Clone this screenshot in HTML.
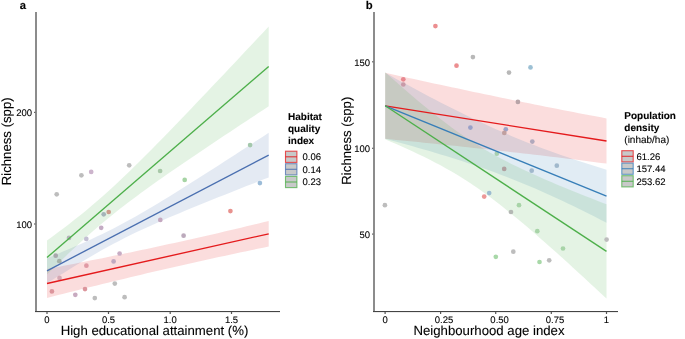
<!DOCTYPE html>
<html><head><meta charset="utf-8"><style>
html,body{margin:0;padding:0;background:#fff;}
svg{display:block;font-family:"Liberation Sans", sans-serif;will-change:transform;}
text{text-rendering:geometricPrecision;stroke:currentColor;stroke-width:0.1px;}
</style></head><body>
<svg width="685" height="339" viewBox="0 0 685 339">
<rect width="685" height="339" fill="#fff"/>
<polygon points="47.00,269.11 52.54,268.04 58.09,266.96 63.63,265.87 69.17,264.78 74.71,263.69 80.25,262.59 85.80,261.48 91.34,260.37 96.88,259.25 102.42,258.13 107.97,257.00 113.51,255.86 119.05,254.72 124.59,253.57 130.14,252.41 135.68,251.25 141.22,250.08 146.76,248.90 152.31,247.71 157.85,246.52 163.39,245.32 168.94,244.11 174.48,242.89 180.02,241.67 185.56,240.43 191.10,239.19 196.65,237.95 202.19,236.69 207.73,235.43 213.28,234.16 218.82,232.88 224.36,231.59 229.90,230.29 235.44,228.99 240.99,227.68 246.53,226.37 252.07,225.04 257.62,223.71 263.16,222.37 268.70,221.03 268.70,246.57 263.16,247.71 257.62,248.86 252.07,250.01 246.53,251.17 240.99,252.34 235.44,253.52 229.90,254.70 224.36,255.89 218.82,257.09 213.28,258.29 207.73,259.51 202.19,260.73 196.65,261.96 191.10,263.20 185.56,264.44 180.02,265.69 174.48,266.95 168.94,268.22 163.39,269.50 157.85,270.78 152.31,272.07 146.76,273.37 141.22,274.68 135.68,275.99 130.14,277.31 124.59,278.64 119.05,279.98 113.51,281.32 107.97,282.67 102.42,284.02 96.88,285.38 91.34,286.75 85.80,288.12 80.25,289.50 74.71,290.89 69.17,292.28 63.63,293.67 58.09,295.07 52.54,296.48 47.00,297.89" fill="#e41a1c" fill-opacity="0.15"/>
<polygon points="47.00,258.30 52.54,256.00 58.09,253.69 63.63,251.35 69.17,248.98 74.71,246.58 80.25,244.14 85.80,241.66 91.34,239.13 96.88,236.55 102.42,233.89 107.97,231.18 113.51,228.38 119.05,225.51 124.59,222.57 130.14,219.55 135.68,216.46 141.22,213.30 146.76,210.08 152.31,206.80 157.85,203.48 163.39,200.12 168.94,196.72 174.48,193.29 180.02,189.84 185.56,186.36 191.10,182.86 196.65,179.35 202.19,175.82 207.73,172.28 213.28,168.72 218.82,165.16 224.36,161.59 229.90,158.01 235.44,154.42 240.99,150.83 246.53,147.23 252.07,143.63 257.62,140.02 263.16,136.41 268.70,132.80 268.70,177.40 263.16,179.57 257.62,181.75 252.07,183.93 246.53,186.11 240.99,188.30 235.44,190.49 229.90,192.69 224.36,194.89 218.82,197.11 213.28,199.33 207.73,201.56 202.19,203.80 196.65,206.06 191.10,208.33 185.56,210.62 180.02,212.92 174.48,215.25 168.94,217.61 163.39,220.00 157.85,222.42 152.31,224.88 146.76,227.39 141.22,229.96 135.68,232.58 130.14,235.28 124.59,238.04 119.05,240.88 113.51,243.80 107.97,246.79 102.42,249.86 96.88,252.99 91.34,256.19 85.80,259.44 80.25,262.75 74.71,266.09 69.17,269.48 63.63,272.90 58.09,276.34 52.54,279.81 47.00,283.30" fill="#4a6fb0" fill-opacity="0.15"/>
<polygon points="47.00,240.50 52.54,236.45 58.09,232.35 63.63,228.17 69.17,223.92 74.71,219.59 80.25,215.16 85.80,210.64 91.34,206.00 96.88,201.26 102.42,196.41 107.97,191.45 113.51,186.38 119.05,181.22 124.59,175.97 130.14,170.64 135.68,165.23 141.22,159.76 146.76,154.23 152.31,148.66 157.85,143.04 163.39,137.38 168.94,131.69 174.48,125.96 180.02,120.22 185.56,114.45 191.10,108.66 196.65,102.86 202.19,97.04 207.73,91.21 213.28,85.36 218.82,79.50 224.36,73.64 229.90,67.77 235.44,61.88 240.99,55.99 246.53,50.10 252.07,44.20 257.62,38.29 263.16,32.38 268.70,26.46 268.70,106.34 263.16,109.97 257.62,113.62 252.07,117.27 246.53,120.92 240.99,124.58 235.44,128.25 229.90,131.92 224.36,135.60 218.82,139.29 213.28,142.99 207.73,146.70 202.19,150.42 196.65,154.16 191.10,157.91 185.56,161.67 180.02,165.46 174.48,169.27 168.94,173.10 163.39,176.97 157.85,180.86 152.31,184.80 146.76,188.78 141.22,192.80 135.68,196.89 130.14,201.04 124.59,205.26 119.05,209.56 113.51,213.96 107.97,218.45 102.42,223.04 96.88,227.74 91.34,232.56 85.80,237.48 80.25,242.51 74.71,247.64 69.17,252.86 63.63,258.16 58.09,263.54 52.54,268.99 47.00,274.50" fill="#4daf4a" fill-opacity="0.15"/>
<circle cx="56.7" cy="194.3" r="2.35" fill="#bdbdbd"/>
<circle cx="81.4" cy="175.3" r="2.35" fill="#bdbdbd"/>
<circle cx="91.2" cy="171.9" r="2.35" fill="#ccb4cc"/>
<circle cx="129.2" cy="165.3" r="2.35" fill="#bdbdbd"/>
<circle cx="160.1" cy="171.0" r="2.35" fill="#a8c8a8"/>
<circle cx="184.7" cy="179.9" r="2.35" fill="#a6d4a4"/>
<circle cx="250.1" cy="145.1" r="2.35" fill="#a4c8ac"/>
<circle cx="259.9" cy="183.1" r="2.35" fill="#9cbcd8"/>
<circle cx="230.4" cy="211.1" r="2.35" fill="#e8928e"/>
<circle cx="183.6" cy="235.7" r="2.35" fill="#bcaabc"/>
<circle cx="160.3" cy="219.9" r="2.35" fill="#c4a8c0"/>
<circle cx="103.7" cy="214.3" r="2.35" fill="#a4b4b8"/>
<circle cx="108.7" cy="212.0" r="2.35" fill="#cc9c8c"/>
<circle cx="101.2" cy="227.8" r="2.35" fill="#c4acc4"/>
<circle cx="69" cy="237.9" r="2.35" fill="#b4b4b8"/>
<circle cx="86.3" cy="238.9" r="2.35" fill="#c4c0d4"/>
<circle cx="55.7" cy="255.7" r="2.35" fill="#a8a8ac"/>
<circle cx="59.3" cy="261.2" r="2.35" fill="#a4b0a8"/>
<circle cx="86.4" cy="265.7" r="2.35" fill="#e09aa4"/>
<circle cx="59.5" cy="277.9" r="2.35" fill="#d4a8b4"/>
<circle cx="51.9" cy="291.4" r="2.35" fill="#dc959c"/>
<circle cx="75.3" cy="294.8" r="2.35" fill="#c8aac0"/>
<circle cx="85" cy="289.1" r="2.35" fill="#dc959c"/>
<circle cx="94.8" cy="298.1" r="2.35" fill="#bdbdbd"/>
<circle cx="119.6" cy="253.5" r="2.35" fill="#c8acc4"/>
<circle cx="113.6" cy="261.4" r="2.35" fill="#c0a8c0"/>
<circle cx="114.8" cy="283.6" r="2.35" fill="#bdbdbd"/>
<circle cx="124.6" cy="297.2" r="2.35" fill="#bdbdbd"/>
<line x1="47.0" y1="283.5" x2="268.7" y2="233.8" stroke="#e41a1c" stroke-width="1.35"/>
<line x1="47.0" y1="270.8" x2="268.7" y2="155.1" stroke="#4a6fb0" stroke-width="1.35"/>
<line x1="47.0" y1="257.5" x2="268.7" y2="66.4" stroke="#4daf4a" stroke-width="1.35"/>
<polygon points="385.20,72.81 390.73,74.03 396.26,75.24 401.80,76.44 407.33,77.65 412.86,78.85 418.39,80.05 423.93,81.25 429.46,82.44 434.99,83.63 440.52,84.82 446.06,86.01 451.59,87.19 457.12,88.37 462.65,89.54 468.19,90.71 473.72,91.88 479.25,93.04 484.78,94.20 490.32,95.35 495.85,96.50 501.38,97.65 506.91,98.79 512.45,99.93 517.98,101.06 523.51,102.19 529.04,103.31 534.58,104.43 540.11,105.54 545.64,106.64 551.17,107.74 556.71,108.84 562.24,109.93 567.77,111.01 573.31,112.08 578.84,113.15 584.37,114.21 589.90,115.27 595.43,116.32 600.97,117.36 606.50,118.40 606.50,163.60 600.97,162.88 595.43,162.16 589.90,161.45 584.37,160.75 578.84,160.05 573.31,159.36 567.77,158.67 562.24,157.99 556.71,157.32 551.17,156.66 545.64,156.00 540.11,155.34 534.58,154.69 529.04,154.05 523.51,153.41 517.98,152.78 512.45,152.15 506.91,151.53 501.38,150.91 495.85,150.30 490.32,149.69 484.78,149.08 479.25,148.48 473.72,147.88 468.19,147.29 462.65,146.70 457.12,146.11 451.59,145.53 446.06,144.95 440.52,144.38 434.99,143.81 429.46,143.24 423.93,142.67 418.39,142.11 412.86,141.55 407.33,140.99 401.80,140.44 396.26,139.88 390.73,139.33 385.20,138.79" fill="#e41a1c" fill-opacity="0.15"/>
<polygon points="385.20,72.83 390.73,75.86 396.26,78.88 401.80,81.89 407.33,84.87 412.86,87.84 418.39,90.80 423.93,93.73 429.46,96.64 434.99,99.52 440.52,102.38 446.06,105.21 451.59,108.02 457.12,110.79 462.65,113.53 468.19,116.23 473.72,118.90 479.25,121.53 484.78,124.12 490.32,126.67 495.85,129.17 501.38,131.62 506.91,134.03 512.45,136.39 517.98,138.70 523.51,140.96 529.04,143.18 534.58,145.34 540.11,147.46 545.64,149.53 551.17,151.55 556.71,153.53 562.24,155.46 567.77,157.36 573.31,159.21 578.84,161.03 584.37,162.82 589.90,164.57 595.43,166.28 600.97,167.97 606.50,169.64 606.50,222.76 600.97,219.91 595.43,217.08 589.90,214.27 584.37,211.50 578.84,208.77 573.31,206.07 567.77,203.40 562.24,200.78 556.71,198.19 551.17,195.65 545.64,193.15 540.11,190.70 534.58,188.30 529.04,185.94 523.51,183.64 517.98,181.38 512.45,179.17 506.91,177.01 501.38,174.90 495.85,172.83 490.32,170.81 484.78,168.84 479.25,166.91 473.72,165.02 468.19,163.17 462.65,161.35 457.12,159.57 451.59,157.82 446.06,156.11 440.52,154.42 434.99,152.76 429.46,151.12 423.93,149.51 418.39,147.92 412.86,146.36 407.33,144.81 401.80,143.27 396.26,141.76 390.73,140.26 385.20,138.77" fill="#377eb8" fill-opacity="0.15"/>
<polygon points="385.20,72.26 390.73,77.19 396.26,82.08 401.80,86.92 407.33,91.72 412.86,96.46 418.39,101.14 423.93,105.74 429.46,110.27 434.99,114.71 440.52,119.05 446.06,123.29 451.59,127.41 457.12,131.41 462.65,135.28 468.19,139.02 473.72,142.62 479.25,146.09 484.78,149.43 490.32,152.65 495.85,155.75 501.38,158.73 506.91,161.62 512.45,164.41 517.98,167.12 523.51,169.76 529.04,172.33 534.58,174.84 540.11,177.30 545.64,179.71 551.17,182.07 556.71,184.41 562.24,186.71 567.77,188.98 573.31,191.22 578.84,193.44 584.37,195.64 589.90,197.82 595.43,199.99 600.97,202.13 606.50,204.27 606.50,298.53 600.97,293.39 595.43,288.25 589.90,283.14 584.37,278.04 578.84,272.96 573.31,267.90 567.77,262.86 562.24,257.85 556.71,252.87 551.17,247.93 545.64,243.01 540.11,238.14 534.58,233.32 529.04,228.55 523.51,223.84 517.98,219.20 512.45,214.63 506.91,210.14 501.38,205.75 495.85,201.45 490.32,197.27 484.78,193.21 479.25,189.27 473.72,185.46 468.19,181.78 462.65,178.24 457.12,174.83 451.59,171.55 446.06,168.39 440.52,165.35 434.99,162.41 429.46,159.57 423.93,156.82 418.39,154.14 412.86,151.54 407.33,149.00 401.80,146.52 396.26,144.08 390.73,141.69 385.20,139.34" fill="#4daf4a" fill-opacity="0.15"/>
<circle cx="435.4" cy="26.1" r="2.35" fill="#ec8e90"/>
<circle cx="472.9" cy="57.1" r="2.35" fill="#b8b8b8"/>
<circle cx="456.5" cy="65.7" r="2.35" fill="#ec8e90"/>
<circle cx="509" cy="72.6" r="2.35" fill="#b8b8b8"/>
<circle cx="530.5" cy="67.4" r="2.35" fill="#9cc0d4"/>
<circle cx="403.3" cy="79.3" r="2.35" fill="#e88890"/>
<circle cx="403.3" cy="84.5" r="2.35" fill="#c89aa8"/>
<circle cx="517.9" cy="101.9" r="2.35" fill="#b8a4a8"/>
<circle cx="470.4" cy="127.6" r="2.35" fill="#98a0c8"/>
<circle cx="505.8" cy="129.3" r="2.35" fill="#9ca4c8"/>
<circle cx="504.3" cy="132.9" r="2.35" fill="#c0a0a0"/>
<circle cx="532.3" cy="141.6" r="2.35" fill="#b0a8bc"/>
<circle cx="496.8" cy="153.7" r="2.35" fill="#a8d0b0"/>
<circle cx="556.8" cy="165.7" r="2.35" fill="#a0b8cc"/>
<circle cx="504.2" cy="168.9" r="2.35" fill="#b0a0a0"/>
<circle cx="531.7" cy="170.7" r="2.35" fill="#a0b8cc"/>
<circle cx="489.2" cy="193.1" r="2.35" fill="#9cbcd0"/>
<circle cx="484.2" cy="196.6" r="2.35" fill="#ec9898"/>
<circle cx="519" cy="205.2" r="2.35" fill="#a8d4a8"/>
<circle cx="511" cy="212.0" r="2.35" fill="#b4b8b4"/>
<circle cx="537.3" cy="231.2" r="2.35" fill="#a8d4a8"/>
<circle cx="563" cy="248.5" r="2.35" fill="#a8d4a8"/>
<circle cx="549.2" cy="260.3" r="2.35" fill="#bdbdbd"/>
<circle cx="539.5" cy="262.0" r="2.35" fill="#a8d8a8"/>
<circle cx="606.6" cy="239.6" r="2.35" fill="#bdbdbd"/>
<circle cx="384.9" cy="205.2" r="2.35" fill="#bdbdbd"/>
<circle cx="495.8" cy="256.8" r="2.35" fill="#a8d8a8"/>
<circle cx="513.3" cy="251.7" r="2.35" fill="#bdbdbd"/>
<line x1="385.2" y1="105.8" x2="606.5" y2="141.0" stroke="#e41a1c" stroke-width="1.35"/>
<line x1="385.2" y1="105.8" x2="606.5" y2="196.2" stroke="#377eb8" stroke-width="1.35"/>
<line x1="385.2" y1="105.8" x2="606.5" y2="251.4" stroke="#4daf4a" stroke-width="1.35"/>
<rect x="35" y="12" width="2" height="299" fill="#8c8c8c"/><rect x="35" y="311" width="245" height="1.1" fill="#444"/>
<rect x="373" y="12" width="2" height="299" fill="#8c8c8c"/><rect x="373" y="311" width="245" height="1.1" fill="#444"/>
<rect x="46.4" y="312" width="1.2" height="2" fill="#555"/>
<text x="47" y="322.6" font-size="9.5" text-anchor="middle" font-weight="normal" fill="#000">0</text>
<rect x="107.9" y="312" width="1.2" height="2" fill="#555"/>
<text x="108.5" y="322.6" font-size="9.5" text-anchor="middle" font-weight="normal" fill="#000">0.5</text>
<rect x="169.6" y="312" width="1.2" height="2" fill="#555"/>
<text x="170.2" y="322.6" font-size="9.5" text-anchor="middle" font-weight="normal" fill="#000">1.0</text>
<rect x="230.9" y="312" width="1.2" height="2" fill="#555"/>
<text x="231.5" y="322.6" font-size="9.5" text-anchor="middle" font-weight="normal" fill="#000">1.5</text>
<rect x="34.1" y="111.80000000000001" width="1.2" height="1.2" fill="#555"/>
<text x="32" y="116.2" font-size="9.5" text-anchor="end" font-weight="normal" fill="#000">200</text>
<rect x="34.1" y="223.4" width="1.2" height="1.2" fill="#555"/>
<text x="32" y="227.8" font-size="9.5" text-anchor="end" font-weight="normal" fill="#000">100</text>
<rect x="384.5" y="312" width="1.2" height="2" fill="#555"/>
<text x="385.1" y="322.6" font-size="9.5" text-anchor="middle" font-weight="normal" fill="#000">0</text>
<rect x="440.0" y="312" width="1.2" height="2" fill="#555"/>
<text x="444" y="322.6" font-size="9.5" text-anchor="middle" font-weight="normal" fill="#000">0.25</text>
<rect x="495.09999999999997" y="312" width="1.2" height="2" fill="#555"/>
<text x="499.6" y="322.6" font-size="9.5" text-anchor="middle" font-weight="normal" fill="#000">0.50</text>
<rect x="550.6999999999999" y="312" width="1.2" height="2" fill="#555"/>
<text x="555" y="322.6" font-size="9.5" text-anchor="middle" font-weight="normal" fill="#000">0.75</text>
<rect x="605.9" y="312" width="1.2" height="2" fill="#555"/>
<text x="606.4" y="322.6" font-size="9.5" text-anchor="middle" font-weight="normal" fill="#000">1</text>
<rect x="372.09999999999997" y="61.199999999999996" width="1.2" height="1.2" fill="#555"/>
<text x="370" y="65.6" font-size="9.5" text-anchor="end" font-weight="normal" fill="#000">150</text>
<rect x="372.09999999999997" y="147.70000000000002" width="1.2" height="1.2" fill="#555"/>
<text x="370" y="152.10000000000002" font-size="9.5" text-anchor="end" font-weight="normal" fill="#000">100</text>
<rect x="372.09999999999997" y="233.5" width="1.2" height="1.2" fill="#555"/>
<text x="370" y="237.9" font-size="9.5" text-anchor="end" font-weight="normal" fill="#000">50</text>
<text x="154.5" y="334.7" font-size="13.2" text-anchor="middle" font-weight="normal" fill="#000">High educational attainment (%)</text>
<text x="489" y="334.7" font-size="13.2" text-anchor="middle" font-weight="normal" fill="#000">Neighbourhood age index</text>
<text transform="translate(11.3,141.3) rotate(-90)" x="0" y="0" font-size="13.2" text-anchor="middle" fill="#000">Richness (spp)</text>
<text transform="translate(350.9,140.7) rotate(-90)" x="0" y="0" font-size="13.2" text-anchor="middle" fill="#000">Richness (spp)</text>
<text x="19.8" y="9.3" font-size="11.3" text-anchor="start" font-weight="bold" fill="#000">a</text>
<text x="365.7" y="9.1" font-size="11.3" text-anchor="start" font-weight="bold" fill="#000">b</text>
<text x="288" y="120.2" font-size="10" text-anchor="start" font-weight="bold" fill="#000">Habitat</text>
<text x="288" y="132.2" font-size="10" text-anchor="start" font-weight="bold" fill="#000">quality</text>
<text x="288" y="144.2" font-size="10" text-anchor="start" font-weight="bold" fill="#000">index</text>
<rect x="285.5" y="151.20000000000002" width="11.4" height="11.2" fill="#c8c9c9" stroke="#e41a1c" stroke-opacity="0.75" stroke-width="1.1"/>
<line x1="285.5" y1="156.8" x2="296.9" y2="156.8" stroke="#e41a1c" stroke-opacity="0.85" stroke-width="1.1"/>
<text x="302.5" y="160.1" font-size="9.5" text-anchor="start" font-weight="normal" fill="#000">0.06</text>
<rect x="285.5" y="163.70000000000002" width="11.4" height="11.2" fill="#c8c9c9" stroke="#4a6fb0" stroke-opacity="0.75" stroke-width="1.1"/>
<line x1="285.5" y1="169.3" x2="296.9" y2="169.3" stroke="#4a6fb0" stroke-opacity="0.85" stroke-width="1.1"/>
<text x="302.5" y="172.6" font-size="9.5" text-anchor="start" font-weight="normal" fill="#000">0.14</text>
<rect x="285.5" y="176.4" width="11.4" height="11.2" fill="#c8c9c9" stroke="#4daf4a" stroke-opacity="0.75" stroke-width="1.1"/>
<line x1="285.5" y1="182.0" x2="296.9" y2="182.0" stroke="#4daf4a" stroke-opacity="0.85" stroke-width="1.1"/>
<text x="302.5" y="185.29999999999998" font-size="9.5" text-anchor="start" font-weight="normal" fill="#000">0.23</text>
<text x="624.3" y="119.4" font-size="10" text-anchor="start" font-weight="bold" fill="#000">Population</text>
<text x="624.3" y="131.4" font-size="10" text-anchor="start" font-weight="bold" fill="#000">density</text>
<text x="624.3" y="143.4" font-size="10" text-anchor="start" font-weight="normal" fill="#000">(inhab/ha)</text>
<rect x="621.8" y="150.70000000000002" width="11.4" height="11.2" fill="#c8c9c9" stroke="#e41a1c" stroke-opacity="0.75" stroke-width="1.1"/>
<line x1="621.8" y1="156.3" x2="633.1999999999999" y2="156.3" stroke="#e41a1c" stroke-opacity="0.85" stroke-width="1.1"/>
<text x="636.5" y="159.6" font-size="9.5" text-anchor="start" font-weight="normal" fill="#000">61.26</text>
<rect x="621.8" y="163.10000000000002" width="11.4" height="11.2" fill="#c8c9c9" stroke="#377eb8" stroke-opacity="0.75" stroke-width="1.1"/>
<line x1="621.8" y1="168.70000000000002" x2="633.1999999999999" y2="168.70000000000002" stroke="#377eb8" stroke-opacity="0.85" stroke-width="1.1"/>
<text x="636.5" y="172.0" font-size="9.5" text-anchor="start" font-weight="normal" fill="#000">157.44</text>
<rect x="621.8" y="175.70000000000002" width="11.4" height="11.2" fill="#c8c9c9" stroke="#4daf4a" stroke-opacity="0.75" stroke-width="1.1"/>
<line x1="621.8" y1="181.3" x2="633.1999999999999" y2="181.3" stroke="#4daf4a" stroke-opacity="0.85" stroke-width="1.1"/>
<text x="636.5" y="184.6" font-size="9.5" text-anchor="start" font-weight="normal" fill="#000">253.62</text>
</svg></body></html>
